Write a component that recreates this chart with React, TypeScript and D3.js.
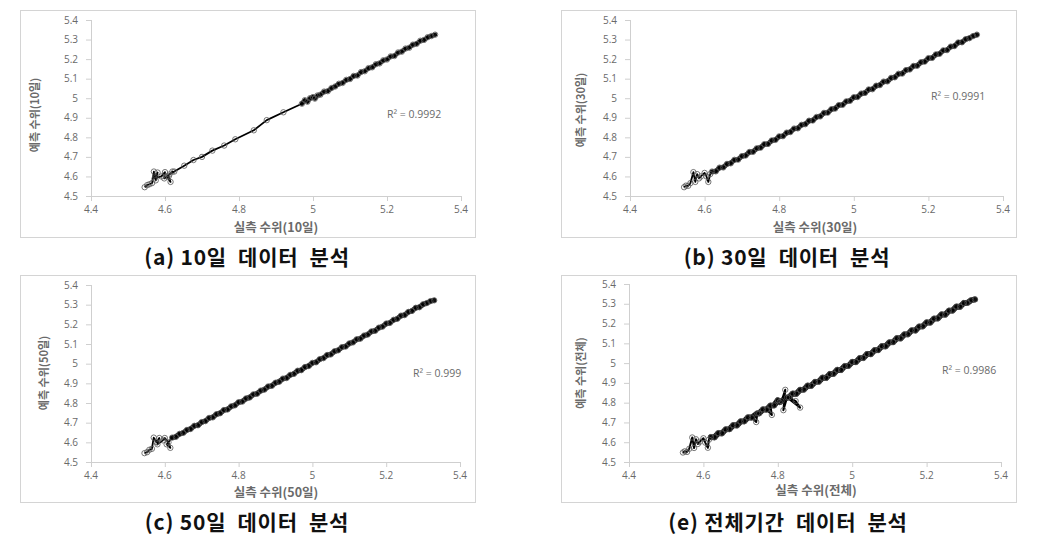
import React from 'react';
import * as d3 from 'd3';

const xTicks = [4.4, 4.6, 4.8, 5, 5.2, 5.4];
const yTicks = [4.5, 4.6, 4.7, 4.8, 4.9, 5, 5.1, 5.2, 5.3, 5.4];
const captions = ['(a) 10일  데이터  분석', '(b) 30일  데이터  분석', '(c) 50일  데이터  분석', '(e) 전체기간  데이터  분석'];
const xTitles = ['실측 수위(10일)', '실측 수위(30일)', '실측 수위(50일)', '실측 수위(전체)'];
const yTitles = ['예측 수위(10일)', '예측 수위(30일)', '예측 수위(50일)', '예측 수위(전체)'];
const r2Labels = ['R² = 0.9992', 'R² = 0.9991', 'R² = 0.999', 'R² = 0.9986'];

// [실측, 예측]
const data10: [number, number][] = [
  [4.545, 4.545], [4.552, 4.556], [4.558, 4.56], [4.565, 4.566], [4.57, 4.625], [4.575, 4.58], [4.58, 4.62], [4.572, 4.59],
  [4.59, 4.6], [4.6, 4.622], [4.598, 4.59], [4.61, 4.6], [4.615, 4.572], [4.605, 4.6], [4.62, 4.625], [4.612, 4.61],
  [4.625, 4.625], [4.652, 4.655], [4.677, 4.684], [4.70, 4.70], [4.728, 4.732], [4.76, 4.758], [4.79, 4.79], [4.84, 4.836],
  [4.875, 4.888], [4.92, 4.928], [4.97, 4.972], [4.978, 4.99], [4.985, 4.982], [4.992, 5.0], [5.0, 5.006], [5.005, 4.998],
  [5.012, 5.014], [5.02, 5.018], [5.03, 5.034], [5.04, 5.036], [5.05, 5.052], [5.06, 5.06], [5.07, 5.074], [5.08, 5.078],
  [5.09, 5.094], [5.1, 5.098], [5.11, 5.114], [5.12, 5.116], [5.13, 5.134], [5.14, 5.138], [5.15, 5.154], [5.16, 5.158],
  [5.17, 5.174], [5.18, 5.178], [5.19, 5.194], [5.2, 5.198], [5.21, 5.214], [5.22, 5.216], [5.23, 5.234], [5.24, 5.238],
  [5.25, 5.254], [5.26, 5.258], [5.27, 5.274], [5.28, 5.278], [5.29, 5.294], [5.3, 5.298], [5.31, 5.312], [5.32, 5.318], [5.33, 5.325],
];

const data30: [number, number][] = [
  [4.545, 4.545], [4.55, 4.553], [4.556, 4.552], [4.562, 4.566], [4.57, 4.622], [4.575, 4.572], [4.58, 4.612], [4.585, 4.59],
  [4.59, 4.6], [4.6, 4.618], [4.605, 4.6], [4.61, 4.572], [4.615, 4.612], [4.62, 4.625], [4.63, 4.626], [4.64, 4.645],
  [4.65, 4.646], [4.66, 4.664], [4.67, 4.667], [4.68, 4.685], [4.69, 4.686], [4.70, 4.704], [4.71, 4.707], [4.72, 4.725],
  [4.73, 4.726], [4.74, 4.744], [4.75, 4.747], [4.76, 4.765], [4.77, 4.766], [4.78, 4.784], [4.79, 4.787], [4.80, 4.805],
  [4.81, 4.806], [4.82, 4.824], [4.83, 4.827], [4.84, 4.845], [4.85, 4.846], [4.86, 4.864], [4.87, 4.867], [4.88, 4.885],
  [4.89, 4.886], [4.90, 4.904], [4.91, 4.907], [4.92, 4.925], [4.93, 4.926], [4.94, 4.944], [4.95, 4.947], [4.96, 4.965],
  [4.97, 4.966], [4.98, 4.984], [4.99, 4.987], [5.00, 5.005], [5.01, 5.006], [5.02, 5.024], [5.03, 5.027], [5.04, 5.045],
  [5.05, 5.046], [5.06, 5.064], [5.07, 5.067], [5.08, 5.085], [5.09, 5.086], [5.10, 5.104], [5.11, 5.107], [5.12, 5.125],
  [5.13, 5.126], [5.14, 5.144], [5.15, 5.147], [5.16, 5.165], [5.17, 5.166], [5.18, 5.184], [5.19, 5.187], [5.20, 5.205],
  [5.21, 5.206], [5.22, 5.224], [5.23, 5.227], [5.24, 5.245], [5.25, 5.246], [5.26, 5.264], [5.27, 5.267], [5.28, 5.285],
  [5.29, 5.286], [5.30, 5.302], [5.31, 5.307], [5.32, 5.318], [5.33, 5.325],
];

const data50: [number, number][] = [
  [4.545, 4.545], [4.552, 4.55], [4.558, 4.562], [4.565, 4.567], [4.57, 4.624], [4.578, 4.6], [4.585, 4.622], [4.58, 4.59],
  [4.595, 4.61], [4.6, 4.622], [4.61, 4.6], [4.615, 4.572], [4.605, 4.59], [4.62, 4.624], [4.63, 4.628], [4.64, 4.643],
  [4.65, 4.648], [4.66, 4.663], [4.67, 4.668], [4.68, 4.684], [4.69, 4.687], [4.70, 4.703], [4.71, 4.708], [4.72, 4.724],
  [4.73, 4.727], [4.74, 4.743], [4.75, 4.748], [4.76, 4.764], [4.77, 4.767], [4.78, 4.783], [4.79, 4.788], [4.80, 4.804],
  [4.81, 4.807], [4.82, 4.823], [4.83, 4.828], [4.84, 4.844], [4.85, 4.847], [4.86, 4.863], [4.87, 4.868], [4.88, 4.884],
  [4.89, 4.887], [4.90, 4.903], [4.91, 4.908], [4.92, 4.924], [4.93, 4.927], [4.94, 4.943], [4.95, 4.948], [4.96, 4.964],
  [4.97, 4.967], [4.98, 4.983], [4.99, 4.988], [5.00, 5.004], [5.01, 5.007], [5.02, 5.023], [5.03, 5.028], [5.04, 5.044],
  [5.05, 5.047], [5.06, 5.063], [5.07, 5.068], [5.08, 5.084], [5.09, 5.087], [5.10, 5.103], [5.11, 5.108], [5.12, 5.124],
  [5.13, 5.127], [5.14, 5.143], [5.15, 5.148], [5.16, 5.164], [5.17, 5.167], [5.18, 5.183], [5.19, 5.188], [5.20, 5.204],
  [5.21, 5.207], [5.22, 5.223], [5.23, 5.228], [5.24, 5.244], [5.25, 5.247], [5.26, 5.263], [5.27, 5.268], [5.28, 5.284],
  [5.29, 5.287], [5.30, 5.302], [5.31, 5.308], [5.32, 5.318], [5.33, 5.322],
];

const dataAll: [number, number][] = [
  [4.545, 4.548], [4.55, 4.554], [4.556, 4.551], [4.562, 4.567], [4.57, 4.624], [4.575, 4.571], [4.58, 4.615], [4.585, 4.591],
  [4.59, 4.602], [4.6, 4.62], [4.605, 4.598], [4.612, 4.572], [4.615, 4.613], [4.62, 4.626], [4.63, 4.625], [4.64, 4.646],
  [4.65, 4.645], [4.66, 4.665], [4.67, 4.666], [4.68, 4.686], [4.69, 4.685], [4.70, 4.705], [4.71, 4.706], [4.72, 4.726],
  [4.73, 4.725], [4.742, 4.702], [4.745, 4.746], [4.75, 4.746], [4.76, 4.766], [4.77, 4.765], [4.784, 4.738], [4.78, 4.785],
  [4.79, 4.786], [4.80, 4.812], [4.805, 4.803], [4.81, 4.808], [4.82, 4.865], [4.815, 4.762], [4.825, 4.826], [4.86, 4.775],
  [4.848, 4.808], [4.83, 4.827], [4.84, 4.846], [4.85, 4.845], [4.86, 4.865], [4.87, 4.866], [4.88, 4.886], [4.89, 4.885],
  [4.90, 4.905], [4.91, 4.906], [4.92, 4.926], [4.93, 4.925], [4.94, 4.945], [4.95, 4.946], [4.96, 4.966], [4.97, 4.965],
  [4.98, 4.985], [4.99, 4.986], [5.00, 5.006], [5.01, 5.005], [5.02, 5.025], [5.03, 5.026], [5.04, 5.046], [5.05, 5.045],
  [5.06, 5.065], [5.07, 5.066], [5.08, 5.086], [5.09, 5.085], [5.10, 5.105], [5.11, 5.106], [5.12, 5.126], [5.13, 5.125],
  [5.14, 5.145], [5.15, 5.146], [5.16, 5.166], [5.17, 5.165], [5.18, 5.185], [5.19, 5.186], [5.20, 5.206], [5.21, 5.205],
  [5.22, 5.225], [5.23, 5.226], [5.24, 5.246], [5.25, 5.245], [5.26, 5.265], [5.27, 5.266], [5.28, 5.286], [5.29, 5.285],
  [5.30, 5.304], [5.31, 5.305], [5.32, 5.318], [5.33, 5.322],
];

const series = [data10, data30, data50, dataAll];

const layouts = [
  { fx: 20, fy: 10, fw: 455, fh: 227, x0: 91, x1: 461, yTop: 20, yBot: 196, xTitleX: 276, xTitleY: 232, yTitleX: 39, yTitleY: 115, r2X: 387, r2Y: 118, capX: 247, capY: 265, lw: 1.8, bw: 4.2 },
  { fx: 561, fy: 10, fw: 455, fh: 227, x0: 630, x1: 1003, yTop: 20, yBot: 196, xTitleX: 815, xTitleY: 232, yTitleX: 585, yTitleY: 110, r2X: 931, r2Y: 100, capX: 787, capY: 265, lw: 1.8, bw: 4.8 },
  { fx: 20, fy: 275, fw: 455, fh: 227, x0: 91, x1: 460, yTop: 285, yBot: 462, xTitleX: 276, xTitleY: 497, yTitleX: 48, yTitleY: 373, r2X: 413, r2Y: 377, capX: 247, capY: 530, lw: 1.8, bw: 5 },
  { fx: 561, fy: 275, fw: 455, fh: 227, x0: 629, x1: 1001, yTop: 284, yBot: 462, xTitleX: 816, xTitleY: 495, yTitleX: 585, yTitleY: 373, r2X: 942, r2Y: 374, capX: 788, capY: 530, lw: 2, bw: 5.8 },
];

const gray = '#6a6a6a';

function Panel({ i }: { i: number }) {
  const L = layouts[i];
  const x = d3.scaleLinear().domain([4.4, 5.4]).range([L.x0, L.x1]);
  const y = d3.scaleLinear().domain([4.5, 5.4]).range([L.yBot, L.yTop]);
  const line = d3.line<[number, number]>().x(d => x(d[0])).y(d => y(d[1]));
  const data = series[i];
  // the densely overlapping part of each series is drawn as a heavier band underneath
  const dense = i === 0 ? data.filter(d => d[0] >= 4.97) : data.filter(d => d[0] >= 4.62 && Math.abs(d[0] - d[1]) < 0.02);
  return (
    <g>
      <rect x={L.fx + 0.5} y={L.fy + 0.5} width={L.fw} height={L.fh} fill="white" stroke="#d4d4d4" />
      <line x1={L.x0} x2={L.x1} y1={L.yBot + 0.5} y2={L.yBot + 0.5} stroke="#cfcfcf" />
      <line x1={L.x0 + 0.5} x2={L.x0 + 0.5} y1={L.yTop} y2={L.yBot} stroke="#cfcfcf" />
      {xTicks.map(t => (
        <g key={'x' + t}>
          <line x1={x(t) + 0.5} x2={x(t) + 0.5} y1={L.yBot} y2={L.yBot + 5} stroke="#cfcfcf" />
          <text x={x(t)} y={L.yBot + 17} textAnchor="middle" fontSize={10} fill={gray} fontFamily="'Open Sans', sans-serif">{String(t)}</text>
        </g>
      ))}
      {yTicks.map(t => (
        <g key={'y' + t}>
          <line x1={L.x0 - 5} x2={L.x0} y1={y(t) + 0.5} y2={y(t) + 0.5} stroke="#cfcfcf" />
          <text x={L.x0 - 13} y={y(t) + 3.5} textAnchor="end" fontSize={10} fill={gray} fontFamily="'Open Sans', sans-serif">{String(t)}</text>
        </g>
      ))}
      <path d={line(dense) || ''} fill="none" stroke="#111" strokeWidth={L.bw} strokeLinejoin="round" strokeLinecap="round" />
      <path d={line(data) || ''} fill="none" stroke="#000" strokeWidth={L.lw} strokeLinejoin="round" />
      {data.map((d, k) => (
        <circle key={k} cx={x(d[0])} cy={y(d[1])} r={2.7} fill="none" stroke="#555" strokeWidth={0.8} />
      ))}
      <text x={L.r2X} y={L.r2Y} fontSize={10.5} fill={gray} fontFamily="'Open Sans', sans-serif">{r2Labels[i]}</text>
      <text x={L.xTitleX} y={L.xTitleY} textAnchor="middle" fontSize={12.5} fontWeight="bold" fill={gray} fontFamily="'Noto Sans CJK KR', sans-serif">{xTitles[i]}</text>
      <text transform={`translate(${L.yTitleX},${L.yTitleY}) rotate(-90)`} textAnchor="middle" fontSize={11} fontWeight="bold" fill={gray} fontFamily="'Noto Sans CJK KR', sans-serif">{yTitles[i]}</text>
      <text x={L.capX} y={L.capY} textAnchor="middle" fontSize={21} fontWeight="bold" fill="#111" letterSpacing={0.8} fontFamily="'Noto Sans CJK KR', sans-serif" style={{ whiteSpace: 'pre' }}>{captions[i]}</text>
    </g>
  );
}

export default function App() {
  return (
    <svg width={1038} height={541} style={{ position: 'absolute', left: 0, top: 0, background: 'white' }}>
      {[0, 1, 2, 3].map(i => <Panel key={i} i={i} />)}
    </svg>
  );
}
